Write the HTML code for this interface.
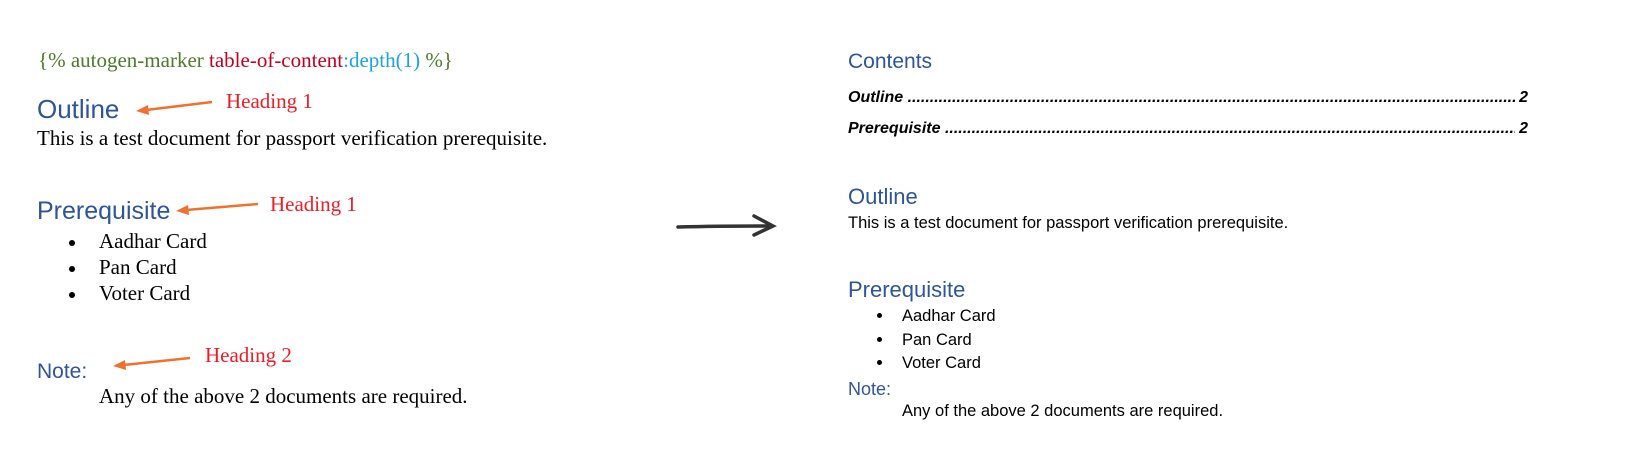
<!DOCTYPE html>
<html><head><style>
body{margin:0;width:1627px;height:467px;background:#fff;position:relative;overflow:hidden}
.a{position:absolute;white-space:nowrap;line-height:1}
.s{font-family:"Liberation Serif",serif;font-size:21px;color:#000}
.h{font-family:"Liberation Sans",sans-serif;color:#2f5597}
.c{font-family:"Liberation Sans",sans-serif;font-size:16.5px;color:#000}
.r{color:#ee1c25}
.dot{position:absolute;width:6px;height:6px;border-radius:50%;background:#000}
.toc{position:absolute;left:848px;width:680px;font-family:"Liberation Sans",sans-serif;font-size:16px;font-weight:bold;font-style:italic;display:flex;line-height:1}
.toc .d{flex:1;overflow:hidden;white-space:nowrap;letter-spacing:0}
</style></head><body>
<div class="a s" style="left:38px;top:50px"><span style="color:#4e7a2a">{% autogen-marker </span><span style="color:#c00020">table-of-content</span><span style="color:#1aa3e0">:depth(1)</span><span style="color:#4e7a2a"> %}</span></div>
<div class="a h" style="left:37px;top:96px;font-size:26px">Outline</div>
<div class="a s r" style="left:226px;top:91px">Heading 1</div>
<div class="a s" style="left:37px;top:128px">This is a test document for passport verification prerequisite.</div>
<div class="a h" style="left:37px;top:199px;font-size:25px">Prerequisite</div>
<div class="a s r" style="left:270px;top:194px">Heading 1</div>
<div class="dot" style="left:69px;top:240px"></div><div class="a s" style="left:99px;top:231px">Aadhar Card</div>
<div class="dot" style="left:69px;top:266px"></div><div class="a s" style="left:99px;top:257px">Pan Card</div>
<div class="dot" style="left:69px;top:292px"></div><div class="a s" style="left:99px;top:283px">Voter Card</div>
<div class="a h" style="left:37px;top:361px;font-size:21px">Note:</div>
<div class="a s r" style="left:205px;top:345px">Heading 2</div>
<div class="a s" style="left:99px;top:386px">Any of the above 2 documents are required.</div>
<svg width="1627" height="467" style="position:absolute;left:0;top:0">
<g stroke="#f07030" stroke-width="2.5" fill="#f07030">
<line x1="212" y1="102" x2="146" y2="110"/><polygon points="136,111 148,105 149,115" stroke="none"/>
<line x1="258" y1="204" x2="186" y2="210"/><polygon points="176,211 188,205 189,215" stroke="none"/>
<line x1="190" y1="358" x2="123" y2="365"/><polygon points="113,366 125,360 126,370" stroke="none"/>
</g>
<g stroke="#333" stroke-width="3.5" fill="none" stroke-linecap="round">
<path d="M678 227 Q720 226 772 226"/><path d="M754 216 L773 226 L754 235"/>
</g>
</svg>
<div class="a h" style="left:848px;top:51px;font-size:21px">Contents</div>
<div class="toc" style="top:90px"><span>Outline&nbsp;</span><span class="d">........................................................................................................................................................................................................................</span><span>&nbsp;2</span></div>
<div class="toc" style="top:121px"><span>Prerequisite&nbsp;</span><span class="d">........................................................................................................................................................................................................................</span><span>&nbsp;2</span></div>
<div class="a h" style="left:848px;top:186px;font-size:22px">Outline</div>
<div class="a c" style="left:848px;top:215px">This is a test document for passport verification prerequisite.</div>
<div class="a h" style="left:848px;top:279px;font-size:22px">Prerequisite</div>
<div class="dot" style="left:877px;top:313px;width:5px;height:5px"></div><div class="a c" style="left:902px;top:308px">Aadhar Card</div>
<div class="dot" style="left:877px;top:337px;width:5px;height:5px"></div><div class="a c" style="left:902px;top:332px">Pan Card</div>
<div class="dot" style="left:877px;top:360px;width:5px;height:5px"></div><div class="a c" style="left:902px;top:355px">Voter Card</div>
<div class="a h" style="left:848px;top:380px;font-size:18px">Note:</div>
<div class="a c" style="left:902px;top:403px">Any of the above 2 documents are required.</div>
</body></html>
